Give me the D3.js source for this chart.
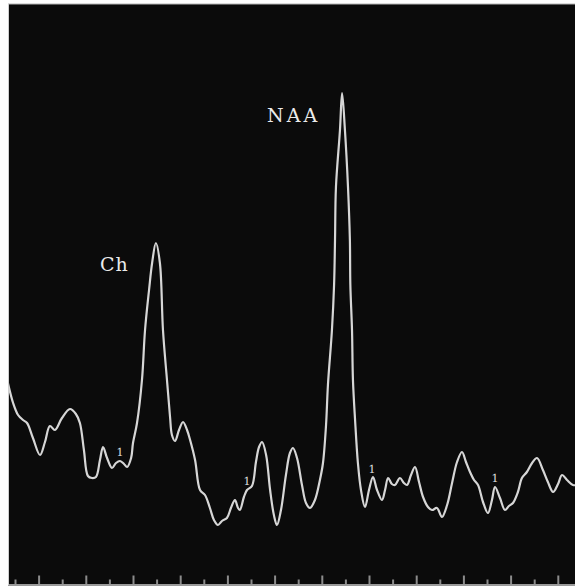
<!DOCTYPE html>
<html>
<head>
<meta charset="utf-8">
<script src="https://cdn.jsdelivr.net/npm/d3@7"></script>
<style>
  body { margin: 0; background: #fff; }
  svg { display: block; }
</style>
</head>
<body>
<div id="spectrum"></div>
<script>
// spectrum trace, x in tick units (0 = first tick), y in arbitrary intensity
const shift = [-0.30, -0.08, 0.13, 0.34, 0.51, 0.76, 1.06, 1.27, 1.48, 1.69, 1.99, 2.33, 2.58, 2.75, 2.92,
  3.09, 3.26, 3.43, 3.60, 3.73, 3.90, 4.11, 4.28, 4.45, 4.62, 4.75, 4.92, 5.00, 5.17, 5.38, 5.51, 5.68,
  5.81, 5.97, 6.14, 6.27, 6.44, 6.57, 6.65, 6.78, 6.95, 7.12, 7.29, 7.42, 7.63, 7.84, 8.05, 8.26, 8.43,
  8.60, 8.77, 8.98, 9.15, 9.32, 9.45, 9.53, 9.70, 9.83, 10.04, 10.21, 10.34, 10.47, 10.64, 10.81, 10.97,
  11.10, 11.27, 11.48, 11.65, 11.78, 11.95, 12.16, 12.33, 12.50, 12.71, 12.92, 13.05, 13.18, 13.26, 13.43,
  13.52, 13.56, 13.60, 13.77, 13.86, 13.98, 14.11, 14.19, 14.21, 14.28, 14.32, 14.41, 14.53, 14.66, 14.83,
  15.00, 15.17, 15.34, 15.55, 15.68, 15.81, 15.97, 16.10, 16.31, 16.48, 16.61, 16.78, 16.95, 17.12, 17.29,
  17.50, 17.67, 17.88, 18.09, 18.31, 18.52, 18.73, 18.94, 19.11, 19.28, 19.45, 19.62, 19.83, 20.04, 20.21,
  20.34, 20.55, 20.76, 20.93, 21.10, 21.31, 21.48, 21.69, 21.91, 22.12, 22.37, 22.58, 22.80, 23.01, 23.18,
  23.39, 23.64, 23.81];
const signal = [40.4, 36.4, 34.0, 33.0, 32.4, 29.4, 26.0, 28.6, 31.8, 31.0, 33.4, 35.2, 34.2, 32.4, 27.0,
  21.8, 21.4, 21.6, 25.0, 27.6, 25.4, 23.4, 24.4, 24.8, 24.2, 23.6, 25.4, 28.4, 32.4, 41.0, 51.0, 59.0,
  64.4, 68.4, 64.4, 51.0, 41.0, 33.6, 30.0, 28.8, 31.0, 32.6, 31.0, 29.0, 25.0, 19.0, 18.0, 15.4, 13.0,
  12.0, 12.8, 13.4, 15.4, 17.0, 15.4, 15.0, 17.6, 19.0, 19.8, 24.6, 27.6, 28.6, 26.0, 19.0, 14.0,
  12.0, 15.0, 22.0, 26.4, 27.4, 25.4, 20.0, 16.4, 15.4, 17.0, 21.0, 24.4, 32.0, 40.0, 51.0,
  60.0, 69.0, 79.6, 91.0, 98.4, 91.0, 79.6, 69.0, 60.0, 51.0, 41.0, 33.0, 24.4, 19.0, 15.6,
  19.0, 21.6, 19.0, 17.0, 19.0, 21.4, 20.2, 20.0, 21.4, 20.4, 20.0, 22.0, 23.6, 20.6, 17.6,
  15.6, 15.0, 15.4, 13.6, 16.0, 20.4, 24.6, 26.6, 24.6, 22.6, 21.0, 20.0, 16.6, 14.4, 17.0,
  19.6, 17.4, 15.0, 15.8, 16.4, 18.6, 21.4, 22.6, 24.4, 25.4, 23.0, 20.6, 18.6, 20.2, 22.0,
  21.0, 20.0, 20.0];

// peak labels
const peakNames = ["Ch", "NAA"];
const peakShift = [3.6, 10.68];
const peakLevel = [62.8, 92.6];

// small "1" markers sitting on the trace
const markShift = [4.45, 9.83, 15.13, 20.34];
const markLevel = [25.8, 20.0, 22.4, 20.6];

// tick marks along the bottom, tall on odd values
const tickVals = d3.range(0, 24);

const W = 575, H = 587;
const panel = {left: 8, top: 4, right: 575, bottom: 585};

const svg = d3.select("#spectrum")
  .append("svg")
  .attr("width", W)
  .attr("height", H);

svg.append("rect")
  .attr("x", panel.left)
  .attr("y", panel.top)
  .attr("width", panel.right - panel.left)
  .attr("height", panel.bottom - panel.top)
  .attr("fill", "#0b0b0b");

svg.append("clipPath").attr("id", "clip")
  .append("rect")
  .attr("x", panel.left)
  .attr("y", panel.top)
  .attr("width", panel.right - panel.left)
  .attr("height", panel.bottom - panel.top);

const x = d3.scaleLinear().domain([0, 24]).range([15, 581.4]);
const y = d3.scaleLinear().domain([0, 100]).range([585, 85]);

const points = shift.map((s, i) => [s, signal[i]]);

const line = d3.line()
  .x(d => x(d[0]))
  .y(d => y(d[1]))
  .curve(d3.curveCatmullRom.alpha(0.5));

svg.append("path")
  .datum(points)
  .attr("clip-path", "url(#clip)")
  .attr("d", line)
  .attr("fill", "none")
  .attr("stroke", "#d6d6d6")
  .attr("stroke-width", 2.2)
  .attr("stroke-linejoin", "round");

// ticks pointing up from the bottom edge
const tallAxis = d3.axisTop(x)
  .tickValues(tickVals.filter(v => v % 2 === 1))
  .tickSize(9)
  .tickFormat("");
const shortAxis = d3.axisTop(x)
  .tickValues(tickVals.filter(v => v % 2 === 0))
  .tickSize(5)
  .tickFormat("");

[tallAxis, shortAxis].forEach(ax => {
  const g = svg.append("g")
    .attr("transform", "translate(0," + (panel.bottom - 0.5) + ")")
    .call(ax);
  g.select(".domain").remove();
  g.selectAll("line").attr("stroke", "#8c8c8c").attr("stroke-width", 2);
});

svg.append("line")
  .attr("x1", panel.left).attr("x2", panel.right)
  .attr("y1", panel.bottom).attr("y2", panel.bottom)
  .attr("stroke", "#9a9a9a")
  .attr("stroke-width", 2);

svg.append("line")
  .attr("x1", panel.left).attr("x2", panel.right)
  .attr("y1", panel.top).attr("y2", panel.top)
  .attr("stroke", "#b5b5b5")
  .attr("stroke-width", 1);

svg.append("line")
  .attr("x1", panel.left + 0.5).attr("x2", panel.left + 0.5)
  .attr("y1", panel.top).attr("y2", panel.bottom)
  .attr("stroke", "#cfcfcf")
  .attr("stroke-width", 1);

svg.selectAll(".peak")
  .data(peakNames)
  .enter()
  .append("text")
  .attr("class", "peak")
  .attr("x", (d, i) => x(peakShift[i]))
  .attr("y", (d, i) => y(peakLevel[i]))
  .attr("fill", "#ebebeb")
  .attr("font-family", "DejaVu Serif, serif")
  .attr("font-size", 19)
  .attr("letter-spacing", (d, i) => i === 1 ? 3 : 1)
  .text(d => d);

svg.selectAll(".mark")
  .data(markShift)
  .enter()
  .append("text")
  .attr("class", "mark")
  .attr("x", d => x(d))
  .attr("y", (d, i) => y(markLevel[i]))
  .attr("text-anchor", "middle")
  .attr("fill", "#e0e0e0")
  .attr("font-family", "DejaVu Serif, serif")
  .attr("font-size", 11)
  .style("text-rendering", "geometricPrecision")
  .text("1");
</script>
</body>
</html>
